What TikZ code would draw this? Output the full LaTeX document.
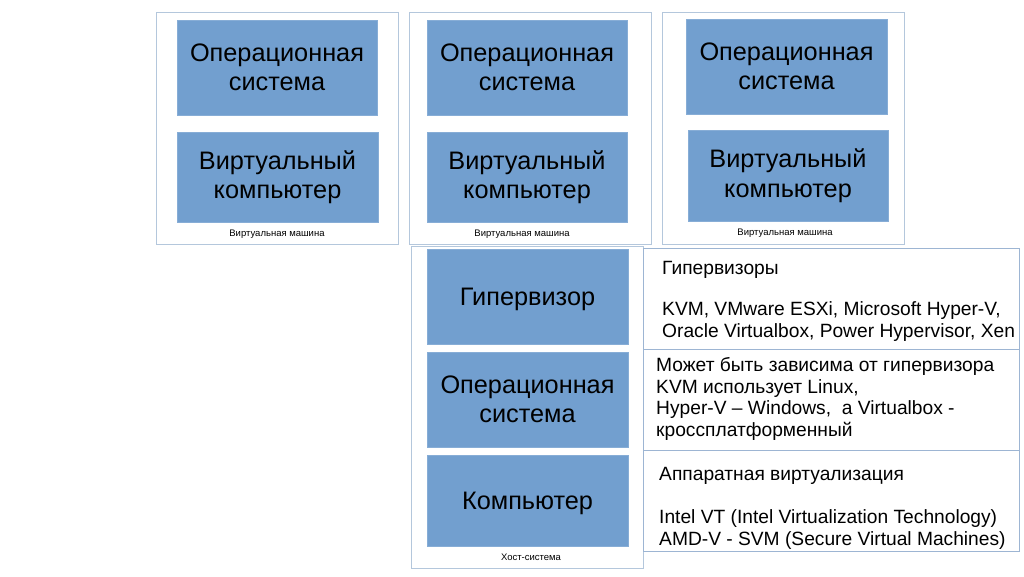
\documentclass[tikz,border=0pt]{standalone}
\usepackage{fontspec}
\setmainfont{Liberation Sans}
\definecolor{boxblue}{HTML}{729FCF}
\definecolor{frameblue}{HTML}{B4C7DC}
\definecolor{lineblue}{HTML}{9DB5D3}
\begin{document}
\begin{tikzpicture}[x=1pt,y=-1pt,
  frame/.style={draw=frameblue,line width=0.9pt,fill=white,rectangle,inner sep=0pt,outer sep=0pt},
  bluebox/.style={draw=boxblue!85!white,fill=boxblue,line width=0.6pt,rectangle,inner sep=0pt,outer sep=0pt,align=center,font=\fontsize{25.3}{29.5}\selectfont},
  oneline/.style={text depth=0pt},
  captext/.style={font=\fontsize{9.5}{11}\selectfont,inner sep=0pt},
  infobox/.style={draw=lineblue,line width=0.9pt,fill=white,rectangle,inner sep=0pt,outer sep=0pt},
  infotext/.style={anchor=north west,align=left,inner sep=0pt,font=\fontsize{19.2}{21.8}\selectfont}]
\useasboundingbox[fill=white] (0,0) rectangle (1024,576);
% virtual machines
\node[frame,minimum width=242,minimum height=232] (vm1) at (277,128) {};
\node[frame,minimum width=242,minimum height=232] (vm2) at (530,128) {};
\node[frame,minimum width=242,minimum height=232] (vm3) at (783,128) {};
\node[bluebox,minimum width=200,minimum height=95] (os1) at (277,67.5) {Операционная\\система};
\node[bluebox,minimum width=201,minimum height=90] (vc1) at (277.5,177) {Виртуальный\\компьютер};
\node[bluebox,minimum width=200,minimum height=95] (os2) at (527,67.5) {Операционная\\система};
\node[bluebox,minimum width=200,minimum height=90] (vc2) at (527,177) {Виртуальный\\компьютер};
\node[bluebox,minimum width=201,minimum height=95] (os3) at (786.5,66.5) {Операционная\\система};
\node[bluebox,minimum width=200,minimum height=91] (vc3) at (788,175.5) {Виртуальный\\компьютер};
\node[captext] (c1) at (277,234.5) {Виртуальная машина};
\node[captext] (c2) at (522,234.5) {Виртуальная машина};
\node[captext] (c3) at (785,233.5) {Виртуальная машина};
% host
\node[frame,minimum width=232,minimum height=322] (host) at (527,407) {};
\node[infobox,minimum width=376,minimum height=101] (r1) at (831,298.5) {};
\node[infobox,minimum width=376,minimum height=101] (r2) at (831,399.5) {};
\node[infobox,minimum width=376,minimum height=101] (r3) at (831,500.5) {};
\node[bluebox,oneline,minimum width=201,minimum height=95] (hv) at (527.5,296.5) {Гипервизор};
\node[bluebox,minimum width=201,minimum height=95] (hos) at (527.5,399.5) {Операционная\\система};
\node[bluebox,oneline,minimum width=201,minimum height=91] (hpc) at (527.5,500.5) {Компьютер};
\node[captext] (hc) at (531,557.5) {Хост-система};
% texts
\node[infotext] (t1) at ([shift={(19,13)}]r1.north west) {Гипервизоры\\[19pt]KVM, VMware ESXi, Microsoft Hyper-V,\\Oracle Virtualbox, Power Hypervisor, Xen};
\node[infotext] (t2) at ([shift={(13,8)}]r2.north west) {Может быть зависима от гипервизора\\KVM использует Linux,\\Hyper-V – Windows,\ \ а Virtualbox -\\кроссплатформенный};
\node[infotext] (t3) at ([shift={(16,17)}]r3.north west) {Аппаратная виртуализация\\[21pt]Intel VT (Intel Virtualization Technology)\\AMD-V - SVM (Secure Virtual Machines)};
\end{tikzpicture}
\end{document}
